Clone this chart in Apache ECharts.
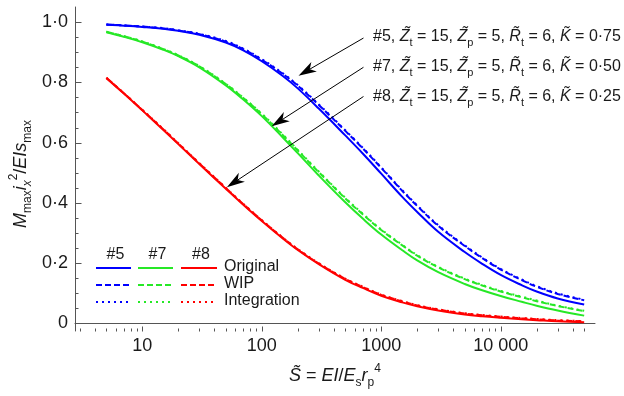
<!DOCTYPE html>
<html>
<head>
<meta charset="utf-8">
<script src="https://cdn.jsdelivr.net/npm/echarts@6.0.0/dist/echarts.min.js"></script>
<style>
  html, body { margin: 0; padding: 0; background: #ffffff; }
  #chart { width: 624px; height: 396px; }
</style>
</head>
<body>
<div id="chart"></div>
<script>
// Dimensionless stiffness S~ = EI / (Es rp^4), sample points
const stiffness = [5, 7, 10, 15, 20, 30, 50, 70, 100, 150, 200, 300, 500, 700, 1000, 1500, 2000, 3000, 5000, 7000, 10000, 15000, 20000, 30000, 50000];

// #5 : K~ = 0.75
const case5Original    = [0.991, 0.988, 0.984, 0.978, 0.971, 0.958, 0.932, 0.906, 0.870, 0.821, 0.780, 0.713, 0.624, 0.564, 0.497, 0.420, 0.370, 0.304, 0.237, 0.198, 0.161, 0.127, 0.106, 0.083, 0.063];
const case5Wip         = [0.992, 0.989, 0.985, 0.979, 0.972, 0.960, 0.935, 0.910, 0.875, 0.828, 0.789, 0.725, 0.639, 0.581, 0.516, 0.440, 0.390, 0.324, 0.257, 0.217, 0.179, 0.144, 0.122, 0.098, 0.077];
const case5Integration = [0.992, 0.989, 0.985, 0.980, 0.973, 0.961, 0.937, 0.912, 0.877, 0.830, 0.791, 0.727, 0.641, 0.583, 0.518, 0.442, 0.392, 0.326, 0.259, 0.219, 0.181, 0.146, 0.124, 0.100, 0.079];

// #7 : K~ = 0.50
const case7Original    = [0.966, 0.951, 0.933, 0.908, 0.887, 0.850, 0.790, 0.743, 0.688, 0.617, 0.565, 0.491, 0.402, 0.348, 0.295, 0.243, 0.209, 0.170, 0.131, 0.110, 0.091, 0.072, 0.059, 0.043, 0.026];
const case7Wip         = [0.968, 0.953, 0.935, 0.910, 0.889, 0.853, 0.794, 0.748, 0.694, 0.625, 0.574, 0.502, 0.415, 0.362, 0.310, 0.259, 0.225, 0.186, 0.147, 0.126, 0.106, 0.087, 0.074, 0.058, 0.041];
const case7Integration = [0.968, 0.953, 0.936, 0.911, 0.890, 0.854, 0.795, 0.749, 0.696, 0.627, 0.576, 0.504, 0.417, 0.364, 0.312, 0.261, 0.227, 0.188, 0.149, 0.128, 0.108, 0.089, 0.076, 0.059, 0.042];

// #8 : K~ = 0.25
const case8Original    = [0.814, 0.763, 0.707, 0.642, 0.595, 0.529, 0.447, 0.394, 0.340, 0.282, 0.244, 0.197, 0.145, 0.118, 0.092, 0.070, 0.057, 0.043, 0.030, 0.024, 0.019, 0.014, 0.011, 0.007, 0.004];
const case8Wip         = [0.815, 0.764, 0.708, 0.644, 0.597, 0.531, 0.449, 0.396, 0.342, 0.284, 0.246, 0.199, 0.148, 0.121, 0.095, 0.073, 0.060, 0.046, 0.033, 0.027, 0.022, 0.017, 0.014, 0.010, 0.007];
const case8Integration = [0.815, 0.764, 0.709, 0.645, 0.598, 0.532, 0.450, 0.397, 0.343, 0.285, 0.247, 0.200, 0.149, 0.122, 0.096, 0.074, 0.061, 0.047, 0.034, 0.028, 0.023, 0.018, 0.015, 0.011, 0.008];

// Axis ticks and labels
const xMajorTicks = [10, 100, 1000, 10000];
const xTickLabels = ['10', '100', '1000', '10 000'];
const xMinorTicks = [3, 4, 5, 6, 7, 8, 9,
                     20, 30, 40, 50, 60, 70, 80, 90,
                     200, 300, 400, 500, 600, 700, 800, 900,
                     2000, 3000, 4000, 5000, 6000, 7000, 8000, 9000,
                     20000, 30000, 40000, 50000];
const yMajorTicks = [0, 0.2, 0.4, 0.6, 0.8, 1.0];
const yTickLabels = ['0', '0·2', '0·4', '0·6', '0·8', '1·0'];
const yMinorTicks = [0.05, 0.1, 0.15, 0.25, 0.3, 0.35, 0.45, 0.5, 0.55, 0.65, 0.7, 0.75, 0.85, 0.9, 0.95];

// Annotation arrows, in data space: [S, value] from text to curve
const arrowFrom = [[710, 0.947], [710, 0.850], [710, 0.753]];
const arrowTo   = [[203, 0.822], [121, 0.654], [51, 0.452]];

const FONT = 'Liberation Sans';
const TEXT = '#1a1a1a';
const AXIS = '#555555';
const BLUE = '#0000ff';
const GREEN = '#26e826';
const RED = '#ff0000';
const DASHED = [6, 3];
const DOTTED = [2, 4];
const X_MIN = 2.73, X_MAX = 61600;
const Y_MIN = -0.025, Y_MAX = 1.05;

function lookup(values, labels, v) {
  for (let i = 0; i < values.length; i++) {
    if (Math.abs(v - values[i]) <= 1e-6 * Math.max(1, Math.abs(values[i]))) return labels[i];
  }
  return '';
}

function curve(name, values, color, dash, z) {
  return {
    name: name,
    type: 'line',
    data: stiffness.map((s, i) => [s, values[i]]),
    showSymbol: false,
    symbol: 'none',
    smooth: 0.4,
    silent: true,
    z: z,
    lineStyle: { color: color, width: 2, type: dash || 'solid', cap: 'butt' }
  };
}

const chart = echarts.init(document.getElementById('chart'), null, { renderer: 'canvas' });

chart.setOption({
  animation: false,
  backgroundColor: '#ffffff',
  textStyle: { fontFamily: FONT },
  grid: { left: 75, right: 29, top: 7, bottom: 65, containLabel: false, outerBoundsMode: 'none' },
  xAxis: {
    type: 'log', logBase: 10, min: X_MIN, max: X_MAX, position: 'bottom',
    axisLine: { show: true, lineStyle: { color: AXIS, width: 1 } },
    axisTick: { show: false },
    axisLabel: {
      show: true, customValues: xMajorTicks, margin: 6,
      fontSize: 18, fontFamily: FONT, color: TEXT,
      formatter: (v) => lookup(xMajorTicks, xTickLabels, v)
    },
    splitLine: { show: false }, minorTick: { show: false }, minorSplitLine: { show: false }
  },
  yAxis: {
    type: 'value', min: Y_MIN, max: Y_MAX, position: 'left',
    axisLine: { show: true, lineStyle: { color: AXIS, width: 1 } },
    axisTick: { show: false },
    axisLabel: {
      show: true, customValues: yMajorTicks, margin: 7,
      fontSize: 18, fontFamily: FONT, color: TEXT,
      formatter: (v) => lookup(yMajorTicks, yTickLabels, v)
    },
    splitLine: { show: false }
  },
  series: [
    curve('#5 Original', case5Original, BLUE, null, 3),
    curve('#7 Original', case7Original, GREEN, null, 3),
    curve('#8 Original', case8Original, RED, null, 3),
    curve('#5 WIP', case5Wip, BLUE, DASHED, 4),
    curve('#7 WIP', case7Wip, GREEN, DASHED, 4),
    curve('#8 WIP', case8Wip, RED, DASHED, 4),
    curve('#5 Integration', case5Integration, BLUE, DOTTED, 5),
    curve('#7 Integration', case7Integration, GREEN, DOTTED, 5),
    curve('#8 Integration', case8Integration, RED, DOTTED, 5)
  ]
});

// ---- overlay: inward ticks, titles, annotations, arrows and the line-style key ----
const graphics = [];

// inward tick marks placed through the axis scales
const xPix = (s) => chart.convertToPixel({ xAxisIndex: 0 }, s);
const yPix = (v) => chart.convertToPixel({ yAxisIndex: 0 }, v);
const axisBottom = Math.round(yPix(Y_MIN)) + 0.5;
const axisLeft = Math.round(xPix(X_MIN)) + 0.5;
function xTick(id, s, len) {
  const px = Math.round(xPix(s)) + 0.5;
  graphics.push({ id: id, type: 'line', z: 10, silent: true,
    shape: { x1: px, y1: axisBottom, x2: px, y2: axisBottom - len },
    style: { stroke: AXIS, lineWidth: 1 } });
}
function yTick(id, v, len) {
  const py = Math.round(yPix(v)) + 0.5;
  graphics.push({ id: id, type: 'line', z: 10, silent: true,
    shape: { x1: axisLeft, y1: py, x2: axisLeft + len, y2: py },
    style: { stroke: AXIS, lineWidth: 1 } });
}
xMajorTicks.forEach((s, i) => xTick('xMaj' + i, s, 5));
xMinorTicks.forEach((s, i) => xTick('xMin' + i, s, 3));
yMajorTicks.forEach((v, i) => yTick('yMaj' + i, v, 6));
yMinorTicks.forEach((v, i) => yTick('yMin' + i, v, 3));

const sub18 = { fontSize: 12, lineHeight: 14, verticalAlign: 'bottom', fontFamily: FONT, fill: TEXT };
const sup18 = { fontSize: 12, lineHeight: 14, verticalAlign: 'top', fontFamily: FONT, fill: TEXT };
const it18 = { fontSize: 18, lineHeight: 26, fontStyle: 'italic', fontFamily: FONT, fill: TEXT };
const itSub18 = { fontSize: 12, lineHeight: 14, verticalAlign: 'bottom', fontStyle: 'italic', fontFamily: FONT, fill: TEXT };
const rich18 = { it: it18, sub: sub18, sup: sup18, itsub: itSub18 };

const it16 = { fontSize: 16, lineHeight: 22, fontStyle: 'italic', fontFamily: FONT, fill: TEXT };
const sub16 = { fontSize: 11, lineHeight: 12, verticalAlign: 'bottom', fontFamily: FONT, fill: TEXT };

// y-axis title
graphics.push({
  id: 'ytitle', type: 'text', x: 21, y: 174, rotation: Math.PI / 2,
  style: {
    text: '{it|M}{sub|max}{it|i}{itsub|x}{sup|2}/{it|EIs}{sub|max}',
    rich: rich18, align: 'center', verticalAlign: 'middle',
    fontSize: 18, lineHeight: 26, fontFamily: FONT, fill: TEXT
  }
});

// x-axis title
graphics.push({
  id: 'xtitle', type: 'text', x: 335, y: 376,
  style: {
    text: '{it|S\u0303} = {it|EI}/{it|E}{sub|s}{it|r}{sub|p}{sup|4}',
    rich: rich18, align: 'center', verticalAlign: 'middle',
    fontSize: 18, lineHeight: 26, fontFamily: FONT, fill: TEXT
  }
});

// case annotations
const notes = [
  { id: 'n5', y: 37, text: '#5, {it|Z\u0303}{sub|t} = 15, {it|Z\u0303}{sub|p} = 5, {it|R\u0303}{sub|t} = 6, {it|K\u0303} = 0·75' },
  { id: 'n7', y: 67, text: '#7, {it|Z\u0303}{sub|t} = 15, {it|Z\u0303}{sub|p} = 5, {it|R\u0303}{sub|t} = 6, {it|K\u0303} = 0·50' },
  { id: 'n8', y: 97, text: '#8, {it|Z\u0303}{sub|t} = 15, {it|Z\u0303}{sub|p} = 5, {it|R\u0303}{sub|t} = 6, {it|K\u0303} = 0·25' }
];
notes.forEach((n) => {
  graphics.push({
    id: n.id, type: 'text', x: 373, y: n.y,
    style: {
      text: n.text, rich: { it: it16, sub: sub16 },
      align: 'left', verticalAlign: 'middle',
      fontSize: 16, lineHeight: 22, fontFamily: FONT, fill: TEXT
    }
  });
});

// arrows pointing at the curves
arrowFrom.forEach((from, i) => {
  const p0 = chart.convertToPixel({ seriesIndex: 0 }, from);
  const p1 = chart.convertToPixel({ seriesIndex: 0 }, arrowTo[i]);
  const dx = p1[0] - p0[0], dy = p1[1] - p0[1];
  const len = Math.sqrt(dx * dx + dy * dy);
  const ux = dx / len, uy = dy / len;
  const nx = -uy, ny = ux;
  const headLen = 18, headHalf = 5.5, notch = 13;
  const back = [p1[0] - ux * headLen, p1[1] - uy * headLen];
  const mid = [p1[0] - ux * notch, p1[1] - uy * notch];
  graphics.push({
    id: 'arrowLine' + i, type: 'line', z: 20,
    shape: { x1: p0[0], y1: p0[1], x2: mid[0], y2: mid[1] },
    style: { stroke: '#000000', lineWidth: 1 }
  });
  graphics.push({
    id: 'arrowHead' + i, type: 'polygon', z: 20,
    shape: { points: [
      [p1[0], p1[1]],
      [back[0] + nx * headHalf, back[1] + ny * headHalf],
      [mid[0], mid[1]],
      [back[0] - nx * headHalf, back[1] - ny * headHalf]
    ] },
    style: { fill: '#000000', stroke: null }
  });
});

// line-style key: column per case, row per method
const keyCols = [
  { label: '#5', color: BLUE, x0: 96, x1: 131 },
  { label: '#7', color: GREEN, x0: 138, x1: 173 },
  { label: '#8', color: RED, x0: 181, x1: 217 }
];
const keyRows = [
  { label: 'Original', dash: null, y: 268 },
  { label: 'WIP', dash: DASHED, y: 285 },
  { label: 'Integration', dash: DOTTED, y: 302 }
];
keyCols.forEach((c, ci) => {
  graphics.push({
    id: 'keyHead' + ci, type: 'text', x: (c.x0 + c.x1) / 2 + 2, y: 255,
    style: { text: c.label, align: 'center', verticalAlign: 'middle', fontSize: 16, fontFamily: FONT, fill: TEXT }
  });
  keyRows.forEach((r, ri) => {
    graphics.push({
      id: 'keyLine' + ci + '_' + ri, type: 'line',
      shape: { x1: c.x0, y1: r.y, x2: c.x1, y2: r.y },
      style: { stroke: c.color, lineWidth: 2, lineDash: r.dash || null }
    });
  });
});
keyRows.forEach((r, ri) => {
  graphics.push({
    id: 'keyText' + ri, type: 'text', x: 224, y: r.y - 1,
    style: { text: r.label, align: 'left', verticalAlign: 'middle', fontSize: 16, fontFamily: FONT, fill: TEXT }
  });
});

chart.setOption({ graphic: graphics });
</script>
</body>
</html>
